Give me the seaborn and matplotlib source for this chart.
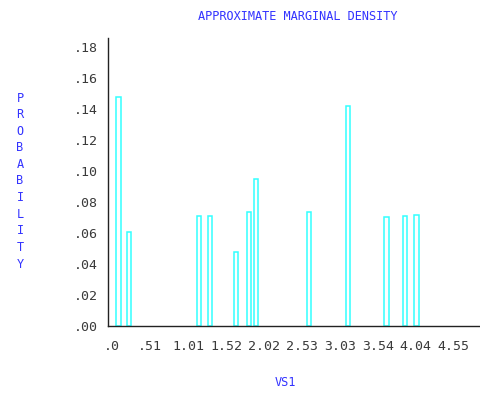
import numpy as np
import pandas as pd
import matplotlib
matplotlib.use("Agg")
import matplotlib.pyplot as plt
import seaborn as sns

# Marginal density of VS1: support points and their probabilities
vs1_values = [0.087, 0.226, 1.158, 1.305, 1.651, 1.824, 1.917,
              2.623, 3.136, 3.648, 3.895, 4.048]
probabilities = [0.148, 0.061, 0.071, 0.071, 0.048, 0.0735, 0.095,
                 0.0735, 0.142, 0.0705, 0.071, 0.0715]

x_ticks = [0.0, 0.505, 1.01, 1.515, 2.02, 2.525, 3.03, 3.535, 4.04, 4.545]
x_tick_labels = [".0", ".51", "1.01", "1.52", "2.02", "2.53",
                 "3.03", "3.54", "4.04", "4.55"]
y_ticks = [0.0, 0.02, 0.04, 0.06, 0.08, 0.10, 0.12, 0.14, 0.16, 0.18]
y_tick_labels = [".00", ".02", ".04", ".06", ".08", ".10",
                 ".12", ".14", ".16", ".18"]

df = pd.DataFrame({"VS1": vs1_values, "prob": probabilities})

sns.set_style("white")
plt.rcParams["font.family"] = ["DejaVu Sans Mono", "DejaVu Sans"]

fig = plt.figure(figsize=(4.81, 3.94), dpi=100)
ax = fig.add_axes([0.2245, 0.1726, 0.7713, 0.731])

bar_width = 0.06
min_gap = np.min(np.diff(np.sort(df["VS1"].values)))
sns.barplot(data=df, x="VS1", y="prob", native_scale=True,
            width=bar_width / min_gap, fill=False, color="#33FFFF",
            linewidth=1.1, ax=ax)

ax.set_xlim(-0.053, 4.88)
ax.set_ylim(0, 0.186)
ax.set_xticks(x_ticks)
ax.set_xticklabels(x_tick_labels)
ax.set_yticks(y_ticks)
ax.set_yticklabels(y_tick_labels)
ax.set_xlabel("")
ax.set_ylabel("")

for side in ("top", "right"):
    ax.spines[side].set_visible(False)
for side in ("left", "bottom"):
    ax.spines[side].set_color("#222222")
    ax.spines[side].set_linewidth(1.0)

ax.tick_params(axis="both", which="major", direction="out", length=4,
               width=1, color="#222222", labelsize=9.5, labelcolor="#3a3a3a")
ax.tick_params(axis="x", pad=6)
ax.tick_params(axis="y", pad=3)

title_color = "#3333ff"
fig.text(298 / 481, 1 - 17 / 394, "APPROXIMATE MARGINAL DENSITY",
         ha="center", va="center", fontsize=8.6, color=title_color)
fig.text(285 / 481, 1 - 383 / 394, "VS1",
         ha="center", va="center", fontsize=8.6, color=title_color)
fig.text(20 / 481, 1 - 181 / 394, "\n".join("PROBABILITY"),
         ha="center", va="center", fontsize=8.6, color=title_color,
         linespacing=1.36)

fig.savefig("out.png", dpi=100)
